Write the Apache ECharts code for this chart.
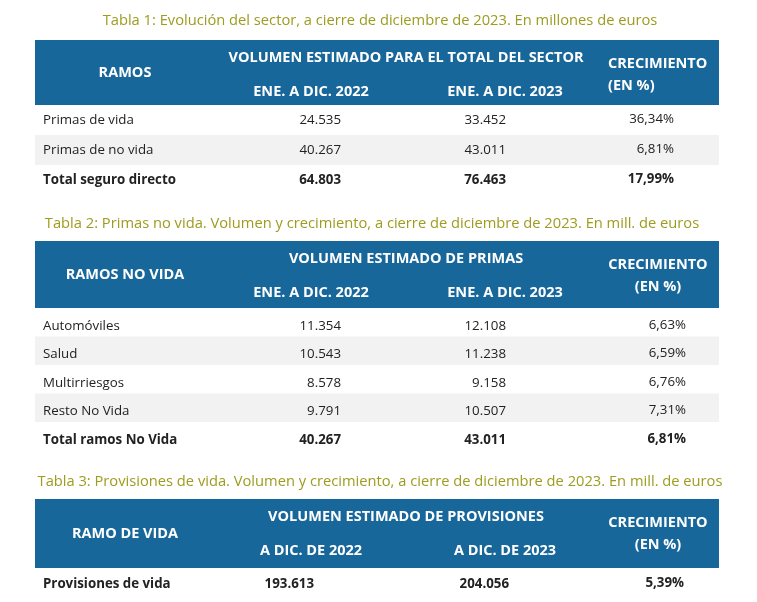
<!DOCTYPE html>
<html lang="es">
<head>
<meta charset="UTF-8">
<title>Tablas sector seguros 2023</title>
<script src="https://cdn.jsdelivr.net/npm/echarts@6/dist/echarts.min.js"></script>
<style>html,body{margin:0;padding:0;background:#fff}</style>
</head>
<body>
<div id="main" style="width:757px;height:602px;"></div>
<script>
// datos
var titulos = [
    'Tabla 1: Evolución del sector, a cierre de diciembre de 2023. En millones de euros',
    'Tabla 2: Primas no vida. Volumen y crecimiento, a cierre de diciembre de 2023. En mill. de euros',
    'Tabla 3: Provisiones de vida. Volumen y crecimiento, a cierre de diciembre de 2023. En mill. de euros'
];
var cabRamos = ['RAMOS', 'RAMOS NO VIDA', 'RAMO DE VIDA'];
var cabVolumen = ['VOLUMEN ESTIMADO PARA EL TOTAL DEL SECTOR', 'VOLUMEN ESTIMADO DE PRIMAS', 'VOLUMEN ESTIMADO DE PROVISIONES'];
var cabPeriodos = [
    ['ENE. A DIC. 2022', 'ENE. A DIC. 2023'],
    ['ENE. A DIC. 2022', 'ENE. A DIC. 2023'],
    ['A DIC. DE 2022', 'A DIC. DE 2023']
];
var ramos1 = ['Primas de vida', 'Primas de no vida', 'Total seguro directo'];
var v2022_1 = ['24.535', '40.267', '64.803'];
var v2023_1 = ['33.452', '43.011', '76.463'];
var crec1 = ['36,34%', '6,81%', '17,99%'];
var ramos2 = ['Automóviles', 'Salud', 'Multirriesgos', 'Resto No Vida', 'Total ramos No Vida'];
var v2022_2 = ['11.354', '10.543', '8.578', '9.791', '40.267'];
var v2023_2 = ['12.108', '11.238', '9.158', '10.507', '43.011'];
var crec2 = ['6,63%', '6,59%', '6,76%', '7,31%', '6,81%'];
var ramos3 = ['Provisiones de vida'];
var v2022_3 = ['193.613'];
var v2023_3 = ['204.056'];
var crec3 = ['5,39%'];

var AZUL = '#18679b', OLIVA = '#9d9c1f', FONT = 'Open Sans';
var els = [];

function txt(x, y, s, opt) {
    opt = opt || {};
    els.push({type: 'text', x: x, y: y, style: {
        text: s, fontFamily: FONT, fontSize: opt.size || 13.3, fontWeight: opt.bold ? 'bold' : 'normal',
        fill: opt.color || '#222', align: opt.align || 'left', verticalAlign: 'middle'
    }});
}
function rect(x, y, w, h, c) {
    els.push({type: 'rect', shape: {x: x, y: y, width: w, height: h}, style: {fill: c}, z: -1});
}

function tabla(t, cfg, ramos, a, b, c) {
    txt(cfg.titleX, cfg.titleY, titulos[t], {color: OLIVA, size: 14.7, align: 'center'});
    rect(35, cfg.top, 684, cfg.headH, AZUL);
    var w = {color: '#fff', bold: true, size: 14.5};
    var yc = cfg.top + cfg.headH / 2;
    txt(125, yc, cabRamos[t], Object.assign({align: 'center'}, w));
    txt(406, cfg.top + 18, cabVolumen[t], Object.assign({align: 'center'}, w));
    txt(311, cfg.top + 52, cabPeriodos[t][0], Object.assign({align: 'center'}, w));
    txt(505, cfg.top + 52, cabPeriodos[t][1], Object.assign({align: 'center'}, w));
    txt(cfg.crecX, cfg.top + 24, 'CRECIMIENTO', Object.assign({align: cfg.crecAlign}, w));
    txt(cfg.crecX, cfg.top + 46, '(EN %)', Object.assign({align: cfg.crecAlign}, w));
    var y0 = cfg.top + cfg.headH;
    ramos.forEach(function (r, i) {
        var y = y0 + i * cfg.rowH;
        if (i % 2 === 1) rect(35, y, 684, cfg.rowH, '#f2f2f2');
        var tot = i === ramos.length - 1 && ramos.length > 1 || t === 2;
        var ym = y + cfg.rowH / 2 + (cfg.off || 0);
        txt(43, ym, r, {bold: tot, align: 'left'});
        txt(cfg.cols[0], ym, a[i], {bold: tot, align: 'right'});
        txt(cfg.cols[1], ym, b[i], {bold: tot, align: 'right'});
        txt(cfg.cols[2], ym - 1, c[i], {bold: tot, align: 'right'});
    });
}

tabla(0, {titleX: 380, titleY: 21, top: 40, headH: 65, rowH: 30, cols: [341, 506, 674], crecX: 608, crecAlign: 'left'},
    ramos1, v2022_1, v2023_1, crec1);
tabla(1, {titleX: 372, titleY: 224, top: 241, headH: 67, rowH: 28.5, off: 3.5, cols: [341, 506, 686], crecX: 658, crecAlign: 'center'},
    ramos2, v2022_2, v2023_2, crec2);
tabla(2, {titleX: 380, titleY: 482, top: 499, headH: 69, rowH: 32, cols: [314, 509, 684], crecX: 658, crecAlign: 'center'},
    ramos3, v2022_3, v2023_3, crec3);

var myChart = echarts.init(document.getElementById('main'));
myChart.setOption({animation: false, graphic: {elements: els}});
</script>
</body>
</html>
